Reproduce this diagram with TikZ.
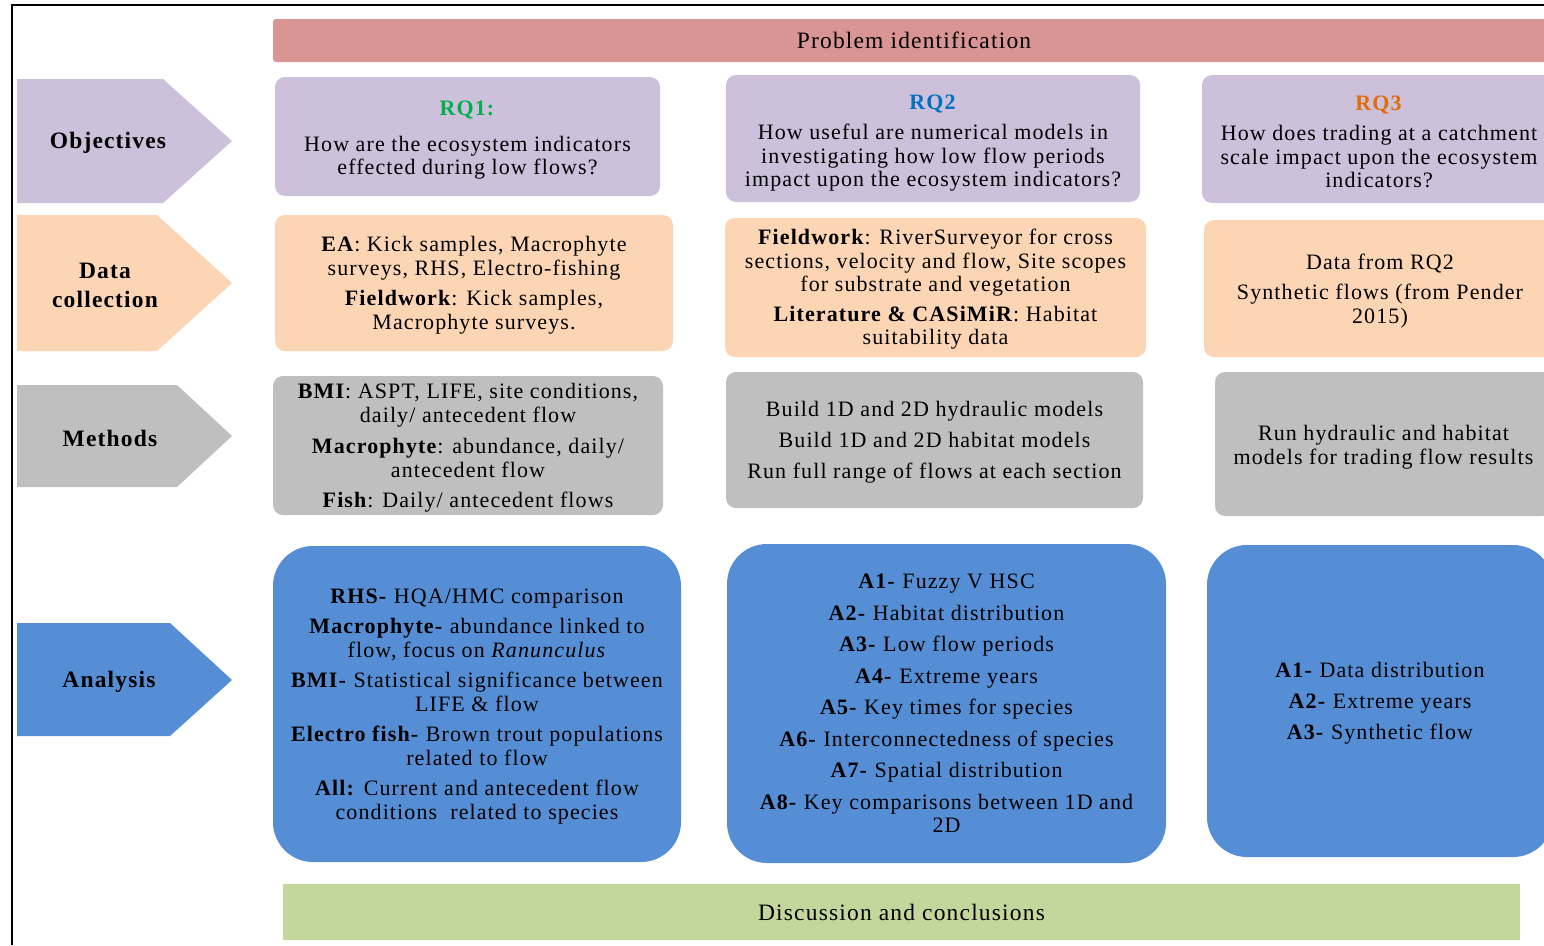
\documentclass[tikz,border=0pt]{standalone}
\usepackage{fontspec}
\setmainfont{Liberation Serif}[LetterSpace=5]
\definecolor{probcol}{HTML}{D99594}
\definecolor{lavcol}{HTML}{CCC0DA}
\definecolor{peachcol}{HTML}{FCD5B5}
\definecolor{graycol}{HTML}{BFBFBF}
\definecolor{bluecol}{HTML}{558ED5}
\definecolor{greencol}{HTML}{C3D69B}
\definecolor{rqone}{HTML}{00B050}
\definecolor{rqtwo}{HTML}{0070C0}
\definecolor{rqthree}{HTML}{E36C09}
\newcommand\boxfont{\fontsize{22}{23.5}\selectfont}
\newcommand\labfont{\fontsize{23.5}{29}\selectfont\bfseries}
\newcommand\headfont{\fontsize{23.5}{26}\selectfont}
\begin{document}
\begin{tikzpicture}[x=1pt,y=-1pt,
  box/.style={rounded corners=10pt, inner sep=0pt},
  bigbox/.style={box, rounded corners=40pt, fill=bluecol},
  txt/.style={inner sep=0pt, align=center, font=\boxfont},
  chevlabel/.style={align=center, font=\labfont, inner sep=0pt}]
\clip (0,0) rectangle (1544,945);
\fill[white] (0,0) rectangle (1544,945);
% frame
\draw[line width=1.6pt] (12,945) -- (12,5) -- (1560,5);
% header
\node[box, rounded corners=3pt, fill=probcol, minimum width=1282pt, minimum height=43pt, font=\headfont] (prob) at (914,40.5) {Problem identification};
% chevrons
\fill[lavcol] (17,79) -- (163,79) -- (232,141) -- (163,203) -- (17,203) -- cycle;
\node[chevlabel] (obj) at (108,143) {Objectives};
\fill[peachcol] (17,215) -- (157,215) -- (232,283) -- (157,351) -- (17,351) -- cycle;
\node[chevlabel] (dcl) at (105,285) {Data\\collection};
\fill[graycol] (17,385) -- (177,385) -- (232,436) -- (177,487) -- (17,487) -- cycle;
\node[chevlabel] (meth) at (110,438) {Methods};
\fill[bluecol] (17,623) -- (170,623) -- (232,680) -- (170,736) -- (17,736) -- cycle;
\node[chevlabel] (ana) at (109,682) {Analysis};
% objectives row
\node[box, fill=lavcol, minimum width=385pt, minimum height=119pt] (rq1) at (467.5,136.5) {};
\node[txt] (rq1t) at ([yshift=-4pt]rq1.center)
  {\textcolor{rqone}{\textbf{RQ1:}}\\[12pt]How are the ecosystem indicators\\effected during low flows?};
\node[box, fill=lavcol, minimum width=414pt, minimum height=127pt] (rq2) at (933,138.5) {};
\node[txt] (rq2t) at ([yshift=-4.5pt]rq2.center)
  {\textcolor{rqtwo}{\textbf{RQ2}}\\[7pt]How useful are numerical models in\\investigating how low flow periods\\impact upon the ecosystem indicators?};
\node[box, fill=lavcol, minimum width=354pt, minimum height=128pt] (rq3) at (1379,139) {};
\node[txt] (rq3t) at ([yshift=-3pt]rq3.center)
  {\textcolor{rqthree}{\textbf{RQ3}}\\[7pt]How does trading at a catchment\\scale impact upon the ecosystem\\indicators?};
% data collection row
\node[box, fill=peachcol, minimum width=398pt, minimum height=136pt] (dc1) at (474,283) {};
\node[txt] (dc1t) at ([yshift=-2pt]dc1.center)
  {\textbf{EA}: Kick samples, Macrophyte\\surveys, RHS, Electro-fishing\\[7pt]\textbf{Fieldwork}: Kick samples,\\Macrophyte surveys.};
\node[box, fill=peachcol, minimum width=421pt, minimum height=139pt] (dc2) at (935.5,287.5) {};
\node[txt] (dc2t) at ([yshift=-2pt]dc2.center)
  {\textbf{Fieldwork}: RiverSurveyor for cross\\sections, velocity and flow, Site scopes\\for substrate and vegetation\\[6pt]\textbf{Literature \& CASiMiR}: Habitat\\suitability data};
\node[box, fill=peachcol, minimum width=352pt, minimum height=137pt] (dc3) at (1380,288.5) {};
\node[txt] (dc3t) at ([yshift=-2.5pt]dc3.center)
  {Data from RQ2\\[7pt]Synthetic flows (from Pender\\2015)};
% methods row
\node[box, fill=graycol, minimum width=390pt, minimum height=139pt] (m1) at (468,445.5) {};
\node[txt] (m1t) at ([yshift=-2.5pt]m1.center)
  {\textbf{BMI}: ASPT, LIFE, site conditions,\\daily/ antecedent flow\\[8pt]\textbf{Macrophyte}: abundance, daily/\\antecedent flow\\[7pt]\textbf{Fish}: Daily/ antecedent flows};
\node[box, fill=graycol, minimum width=417pt, minimum height=136pt] (m2) at (934.5,440) {};
\node[txt] (m2t) at ([yshift=-2pt]m2.center)
  {Build 1D and 2D hydraulic models\\[7.5pt]Build 1D and 2D habitat models\\[7.5pt]Run full range of flows at each section};
\node[box, fill=graycol, minimum width=337pt, minimum height=144pt] (m3) at (1383.5,444) {};
\node[txt] (m3t) at ([yshift=-3pt]m3.center)
  {Run hydraulic and habitat\\models for trading flow results};
% analysis row
\node[bigbox, minimum width=408pt, minimum height=316pt] (a1) at (477,704) {};
\node[txt] (a1t) at ([yshift=-2.5pt]a1.center)
  {\textbf{RHS-} HQA/HMC comparison\\[7pt]\textbf{Macrophyte-} abundance linked to\\flow, focus on \textit{Ranunculus}\\[7pt]\textbf{BMI-} Statistical significance between\\LIFE \& flow\\[7pt]\textbf{Electro fish-} Brown trout populations\\related to flow\\[7pt]\textbf{All:} Current and antecedent flow\\conditions\ \ related to species};
\node[bigbox, minimum width=439pt, minimum height=319pt] (a2) at (946.5,703.5) {};
\node[txt] (a2t) at (a2.center)
  {\textbf{A1-} Fuzzy V HSC\\[8pt]\textbf{A2-} Habitat distribution\\[8pt]\textbf{A3-} Low flow periods\\[8pt]\textbf{A4-} Extreme years\\[8pt]\textbf{A5-} Key times for species\\[8pt]\textbf{A6-} Interconnectedness of species\\[8pt]\textbf{A7-} Spatial distribution\\[8pt]\textbf{A8-} Key comparisons between 1D and\\2D};
\node[bigbox, minimum width=346pt, minimum height=312pt] (a3) at (1380,701) {};
\node[txt] (a3t) at ([yshift=-2pt]a3.center)
  {\textbf{A1-} Data distribution\\[7.5pt]\textbf{A2-} Extreme years\\[7.5pt]\textbf{A3-} Synthetic flow};
% discussion
\node[box, rounded corners=0pt, fill=greencol, minimum width=1237pt, minimum height=56pt, font=\headfont] (disc) at (901.5,912) {Discussion and conclusions};
\end{tikzpicture}
\end{document}
